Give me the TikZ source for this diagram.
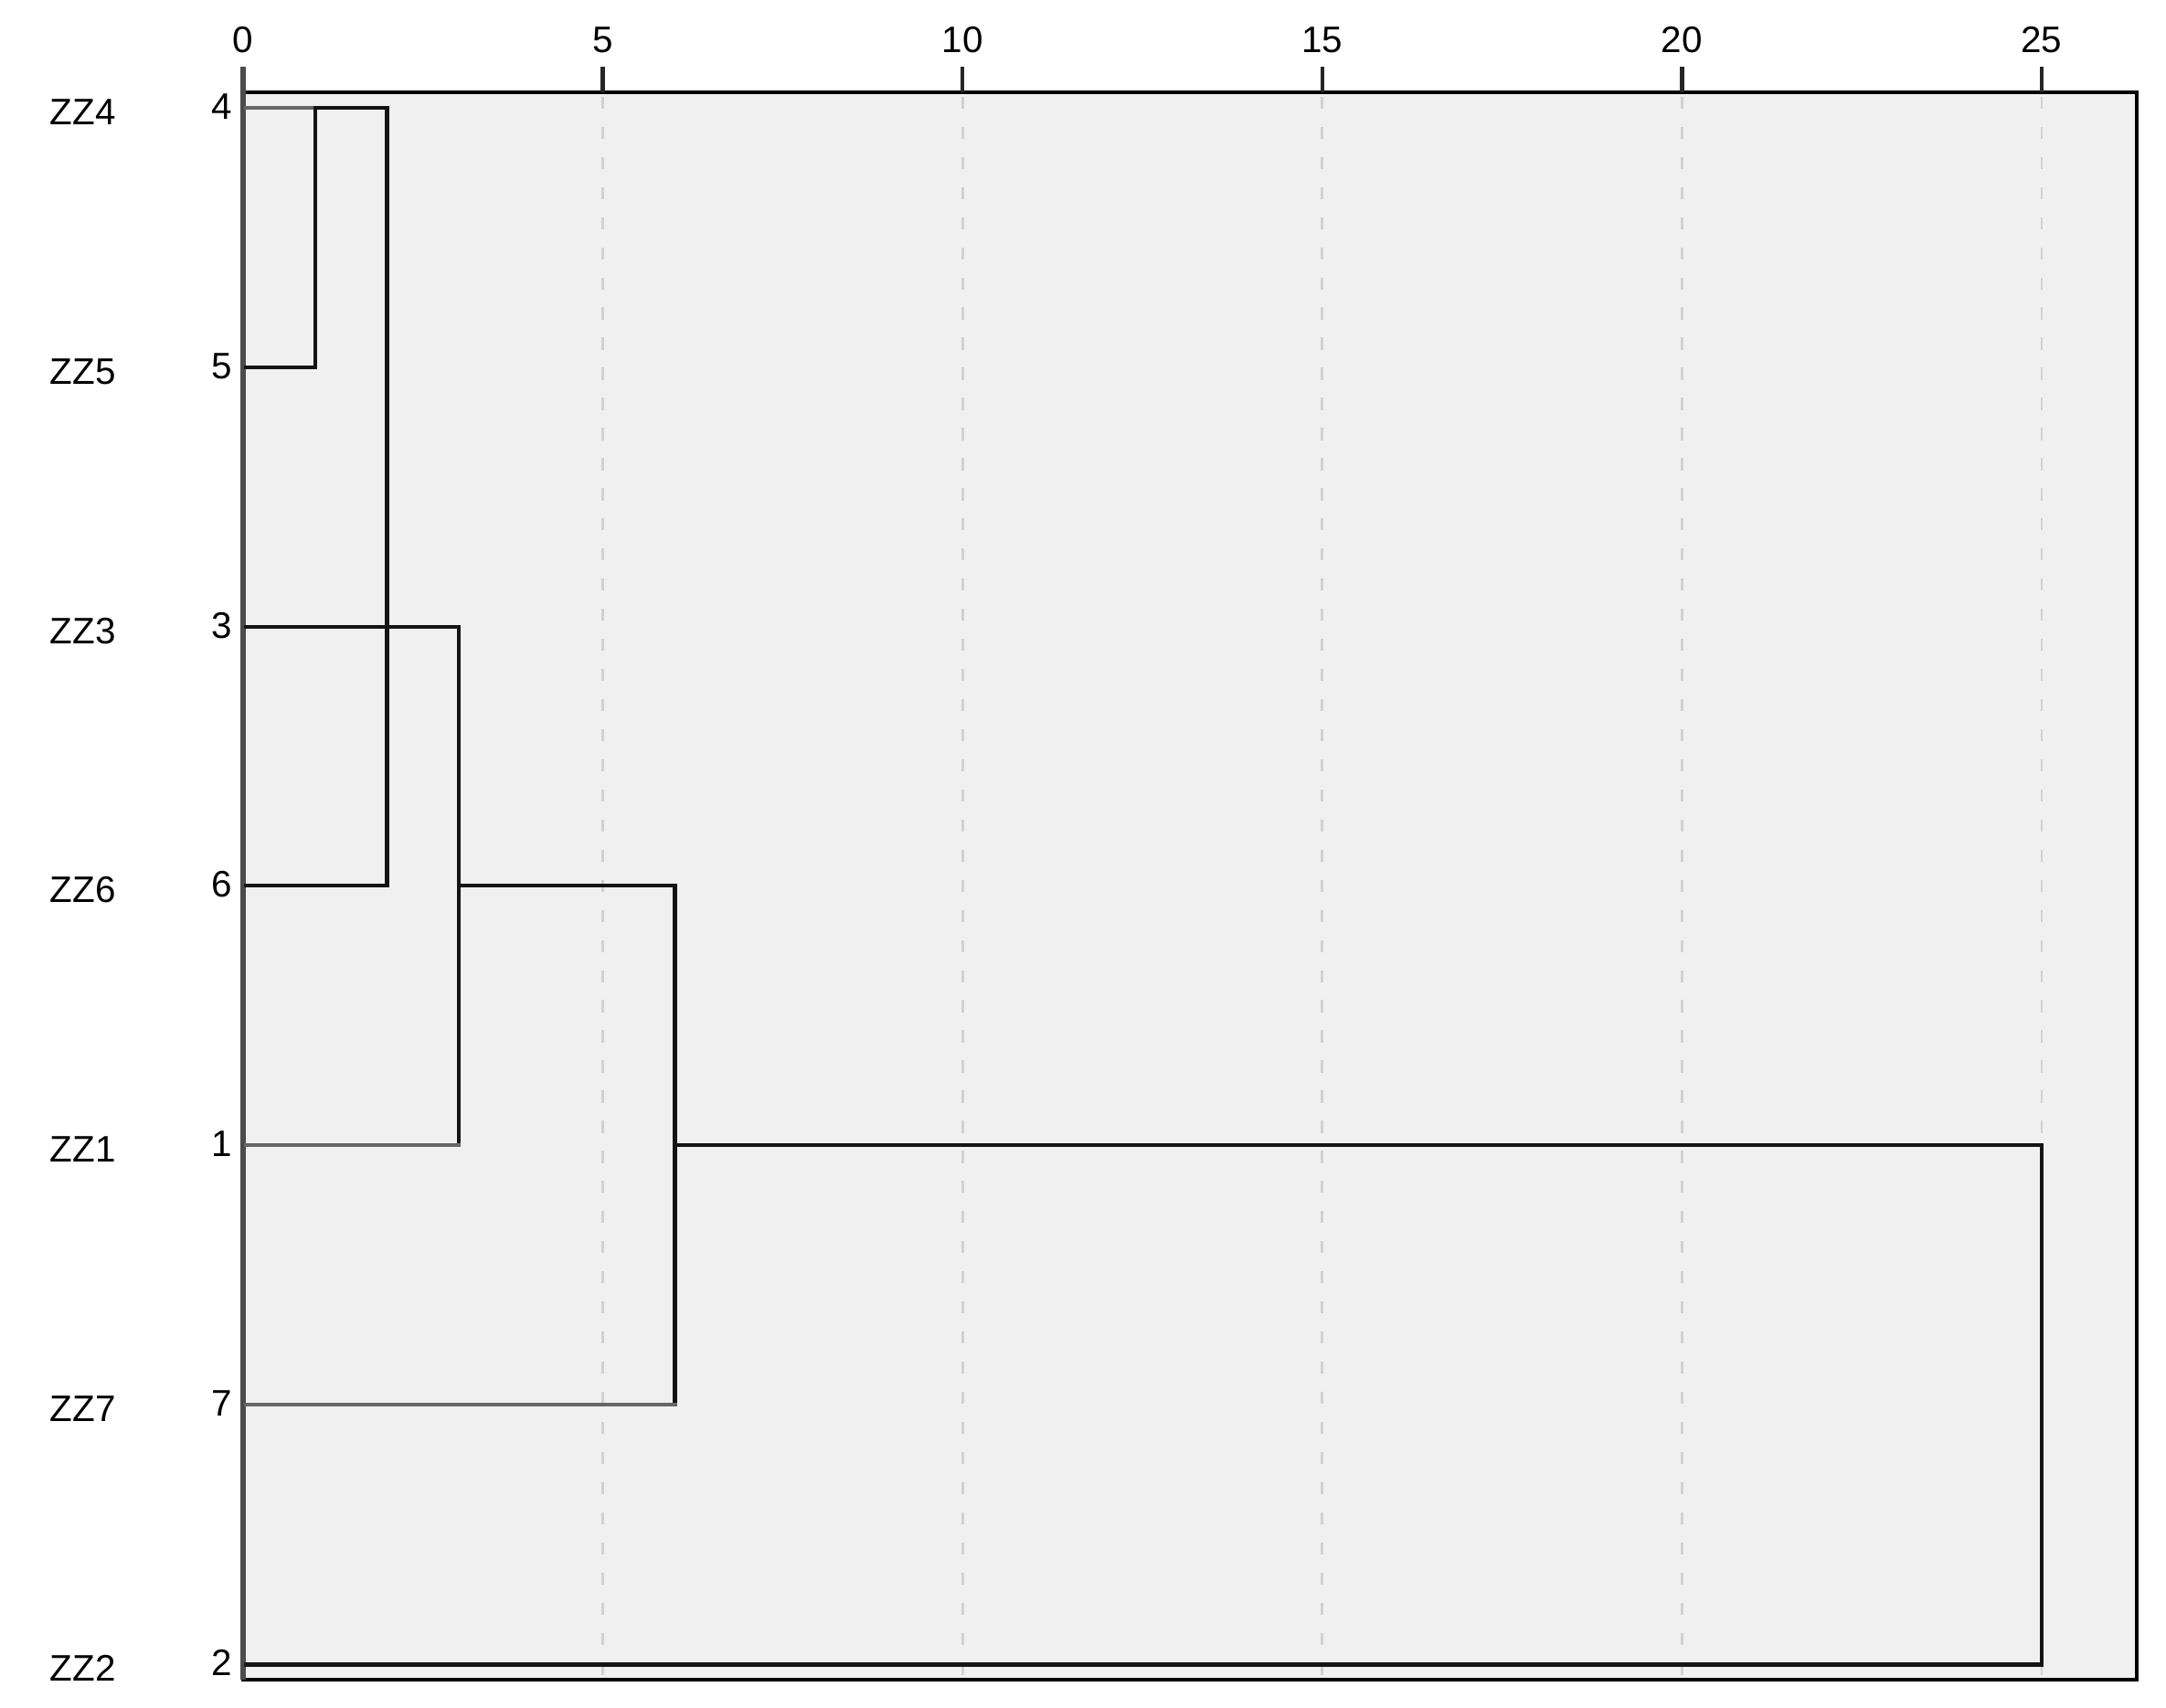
\documentclass[tikz,border=0pt]{standalone}
\usepackage{fontspec}
\setmainfont{Liberation Sans}
\begin{document}
\begin{tikzpicture}[x=0.01cm,y=-0.01cm,
  lbl/.style={inner sep=0pt,font=\fontsize{7.6}{9}\selectfont},
  gridln/.style={draw=black!18,line width=0.5pt,dash pattern=on 2.5pt off 3.7pt},
  dend/.style={draw=black!92,line width=0.85pt,line cap=rect},
  dendlt/.style={dend,draw=black!60},
  frame/.style={draw=black,line width=0.75pt}]
\useasboundingbox (0,0) rectangle (1568,1236);
% plot area
\fill[black!6] (176,67) rectangle (1547,1216);
\foreach \v in {5,10,15,20,25}{
  \draw[gridln] ({176+52.08*\v},70) -- ({176+52.08*\v},1214);
}
\draw[frame] (176,67) rectangle (1547,1216);
% ticks and tick labels
\foreach \v in {0,5,10,15,20,25}{
  \coordinate (t\v) at ({176+52.08*\v},67);
  \draw[line width=0.8pt,black!85] (t\v) -- ++(0,-19);
  \node[lbl] (tl\v) at ({176+52.08*\v},29) {\v};
}
\draw[line width=1.3pt,black!70] (176,48) -- (176,1216);
% rows: name, case number, left end of row line
\foreach \n/\c/\y in {ZZ4/4/78,ZZ5/5/266,ZZ3/3/454,ZZ6/6/641,ZZ1/1/829,ZZ7/7/1017,ZZ2/2/1205}{
  \node[lbl] (name\c) at (60,\y+3) {\n};
  \node[lbl,anchor=east] (num\c) at (169,\y-1) {\c};
  \coordinate (r\c) at (178,\y);
}
% merge points (x = 176 + 52.08*distance)
\coordinate (m45a) at (228.1,78);  \coordinate (m45b) at (228.1,266);
\coordinate (m456a) at (280.2,78); \coordinate (m456b) at (280.2,641);
\coordinate (m31a) at (332.2,454); \coordinate (m31b) at (332.2,829);
\coordinate (mAa) at (332.2,641);  \coordinate (mAb) at (488.5,641);
\coordinate (mAc) at (488.5,1017);
\coordinate (mBa) at (488.5,829);  \coordinate (mBb) at (1478,829);
\coordinate (mBc) at (1478,1205);
% dendrogram lines
\draw[dendlt] (r4) -- (m45a);
\draw[dend] (m45a) -- (m456a) -- (m456b) -- (r6);
\draw[dend] (m45a) -- (m45b) -- (r5);
\draw[dend] (r3) -- (m31a) -- (m31b);
\draw[dendlt] (m31b) -- (r1);
\draw[dend] (mAa) -- (mAb) -- (mAc);
\draw[dendlt] (mAc) -- (r7);
\draw[dend] (mBa) -- (mBb) -- (mBc) -- (r2);
\end{tikzpicture}
\end{document}
